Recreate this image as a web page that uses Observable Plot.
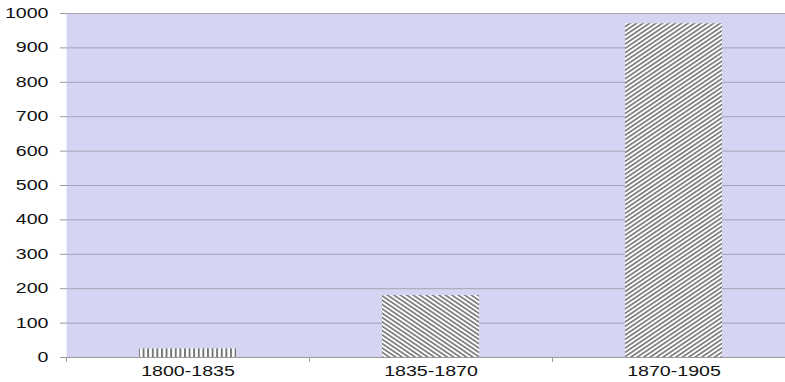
<!DOCTYPE html>
<html><head><meta charset="utf-8">
<script src="https://cdn.jsdelivr.net/npm/d3@7"></script>
<script src="https://cdn.jsdelivr.net/npm/@observablehq/plot@0.6"></script>
<style>
html,body{margin:0;padding:0;background:#fff;overflow:hidden;width:785px;height:382px}
#chart svg{display:block}
</style>
</head><body><div id="chart"></div>
<script>
// ---- data ----
const categories = ["1800-1835", "1835-1870", "1870-1905"];
const values = [25, 180, 970];
const yTicks = [0, 100, 200, 300, 400, 500, 600, 700, 800, 900, 1000];

const data = categories.map((c, i) => ({period: c, value: values[i]}));

// ---- layout ----
const W = 785, H = 382;
const mL = 66, mR = -10, mT = 13, mB = 25;
const padIn = 0.6, padOut = 0.3;
const step = (W - mR - mL) / (categories.length - padIn + 2 * padOut);
const hatchIds = ["hatch-v", "hatch-back", "hatch-fwd"];

function defs() {
  const d = d3.create("svg:defs");
  const mk = (id, size, frac, rot) => {
    const p = d.append("pattern").attr("id", id).attr("patternUnits", "userSpaceOnUse")
      .attr("width", size).attr("height", size);
    if (rot) p.attr("patternTransform", `rotate(${rot})`);
    p.append("rect").attr("width", size).attr("height", size).attr("fill", "#ffffff");
    p.append("rect").attr("width", size * frac).attr("height", size).attr("fill", "#747474");
  };
  mk("hatch-v", 4.6, 0.42, 0);
  mk("hatch-back", 3.6, 0.45, -56);
  mk("hatch-fwd", 3.6, 0.45, 56);
  return d.node();
}

const marks = [
  defs,
  Plot.frame({fill: "#d5d5f3", stroke: null}),
  Plot.gridY(yTicks, {stroke: "#a4a4b4", strokeOpacity: 1, strokeWidth: 1}),
  Plot.ruleX([0], {frameAnchor: "left", stroke: "#a4a4b4"}),
  Plot.axisY({ticks: yTicks, tickFormat: d => String(d), tickSize: 6, tickPadding: 12, stroke: "#9a9a9a", fill: "#111", label: null, fontSize: 14}),
  Plot.axisX({tickSize: 0, tickPadding: 9, fill: "#111", label: null, fontSize: 14}),
  Plot.ruleY([0], {stroke: "#9a9a9a"}),
  Plot.ruleX(categories, {x: d => d, dx: -step / 2, y1: 0, y2: 0, insetBottom: -5, stroke: "#9a9a9a"})
];
data.forEach((d, i) => {
  marks.push(Plot.barY([d], {x: "period", y: "value", fill: `url(#${hatchIds[i]})`}));
});

const plot = Plot.plot({
  width: W, height: H,
  marginLeft: mL, marginRight: mR, marginTop: mT, marginBottom: mB,
  x: {domain: categories, paddingInner: padIn, paddingOuter: padOut, axis: null},
  y: {domain: [0, 1000], axis: null},
  style: {fontFamily: "'Liberation Sans', Arial, sans-serif", fontSize: "14px", color: "#111", background: "#fff"},
  marks
});
document.getElementById("chart").append(plot);

// horizontally stretched lettering as in the reference
d3.select(plot).selectAll("text").each(function() {
  const len = this.getComputedTextLength();
  if (len > 0) {
    this.setAttribute("textLength", (len * 1.4).toFixed(1));
    this.setAttribute("lengthAdjust", "spacingAndGlyphs");
  }
});
</script>
</body></html>
